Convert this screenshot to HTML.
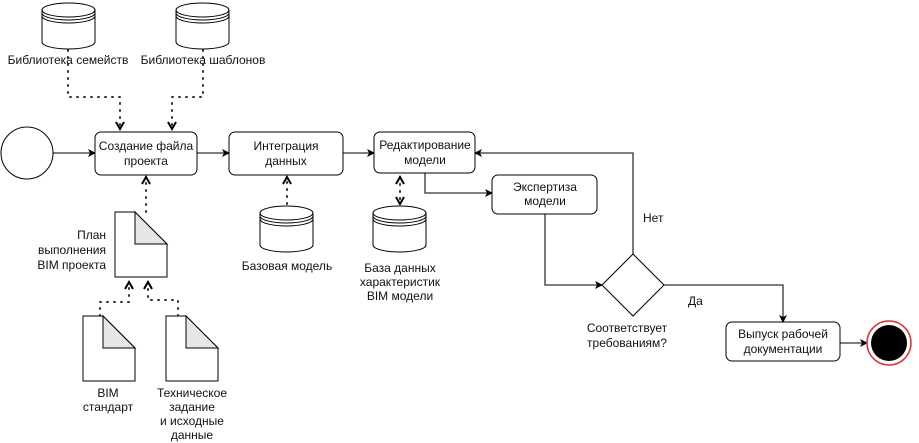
<!DOCTYPE html>
<html><head><meta charset="utf-8"><style>body{margin:0;background:#fff}svg{display:block}text{font-family:"Liberation Sans",sans-serif;font-size:12px;fill:#111}</style></head><body>
<svg width="919" height="443" viewBox="0 0 919 443" xmlns="http://www.w3.org/2000/svg">
<defs>
<marker id="a" markerWidth="8" markerHeight="8" refX="7" refY="4" orient="auto" markerUnits="userSpaceOnUse"><path d="M0,0 L8,4 L0,8 L2,4z" fill="#000"/></marker>
<marker id="o" markerWidth="10" markerHeight="10" refX="8" refY="5" orient="auto" markerUnits="userSpaceOnUse"><path d="M1,1 L8,5 L1,9" fill="none" stroke="#000" stroke-width="2"/></marker>
<marker id="os" markerWidth="10" markerHeight="10" refX="2" refY="5" orient="auto" markerUnits="userSpaceOnUse"><path d="M9,1 L2,5 L9,9" fill="none" stroke="#000" stroke-width="2"/></marker>
<g id="cyl"><path d="M0,8 L0,40 A26.5,7 0 0 0 53,40 L53,8" fill="#fff" stroke="#000"/><ellipse cx="26.5" cy="8" rx="26.5" ry="7" fill="#fff" stroke="#000"/><path d="M0,11 A26.5,7 0 0 0 53,11 M0,14 A26.5,7 0 0 0 53,14" fill="none" stroke="#000"/></g>
<g id="doc"><path d="M0,0 L20,0 L52,32 L52,65 L0,65z" fill="#fff" stroke="#000"/><path d="M20,0 L20,32 L52,32z" fill="#e6e6e6" stroke="#000"/></g>
</defs>
<g stroke="#333" stroke-width="1.3" fill="none">
<path d="M53,153 L95,153" marker-end="url(#a)"/>
<path d="M197,153 L229,153" marker-end="url(#a)"/>
<path d="M343,153 L374,153" marker-end="url(#a)"/>
<path d="M425,173 L425,193 L492,193" marker-end="url(#a)"/>
<path d="M545,214 L545,285 L602,285" marker-end="url(#a)"/>
<path d="M633,254 L633,153 L475,153" marker-end="url(#a)"/>
<path d="M664,285 L783,285 L783,322" marker-end="url(#a)"/>
<path d="M840,343 L867,343" marker-end="url(#a)"/>
</g>
<g stroke="#333" stroke-width="2" fill="none" stroke-dasharray="1,6" stroke-linecap="round">
<path d="M68,50 L68,97 L120,97 L120,129" marker-end="url(#o)"/>
<path d="M203,50 L203,97 L172,97 L172,129" marker-end="url(#o)"/>
<path d="M146,212 L146,177" marker-end="url(#o)"/>
<path d="M287,204 L287,177" marker-end="url(#o)"/>
<path d="M400,177 L400,204" marker-end="url(#o)" marker-start="url(#os)"/>
<path d="M100,316 L100,302 L129,302 L129,282" marker-end="url(#o)"/>
<path d="M178,316 L178,300 L148,300 L148,282" marker-end="url(#o)"/>
</g>
<circle cx="27" cy="153" r="26" fill="#fff" stroke="#000"/>
<g fill="#fff" stroke="#000">
<rect x="95" y="132" width="102" height="43" rx="6"/>
<rect x="229" y="132" width="114" height="43" rx="6"/>
<rect x="374" y="132" width="101" height="41" rx="6"/>
<rect x="492" y="175" width="105" height="39" rx="6"/>
<rect x="726" y="322" width="114" height="39" rx="6"/>
<path d="M633,254 L664,285 L633,316 L602,285z"/>
</g>
<circle cx="889" cy="343" r="22" fill="#fff" stroke="#e03030" stroke-width="1.5"/>
<circle cx="889" cy="343" r="18" fill="#000"/>
<use href="#cyl" x="42" y="2"/><use href="#cyl" x="176" y="2"/>
<use href="#cyl" x="260" y="205"/><use href="#cyl" x="373" y="205"/>
<use href="#doc" x="115" y="212"/><use href="#doc" x="83" y="316"/><use href="#doc" x="166" y="316"/>
<g text-anchor="middle">
<text x="68" y="64">Библиотека семейств</text>
<text x="203" y="64">Библиотека шаблонов</text>
<text x="146" y="150">Создание файла</text><text x="146" y="165">проекта</text>
<text x="286" y="150">Интеграция</text><text x="286" y="165">данных</text>
<text x="425" y="149">Редактирование</text><text x="425" y="164">модели</text>
<text x="545" y="191">Экспертиза</text><text x="545" y="205">модели</text>
<text x="783" y="338">Выпуск рабочей</text><text x="783" y="353">документации</text>
<text x="287" y="270">Базовая модель</text>
<text x="400" y="272">База данных</text><text x="400" y="286">характеристик</text><text x="400" y="300">BIM модели</text>
<text x="108" y="397">BIM</text><text x="108" y="411">стандарт</text>
<text x="192" y="397">Техническое</text><text x="192" y="411">задание</text><text x="192" y="425">и исходные</text><text x="192" y="439">данные</text>
<text x="627" y="332">Соответствует</text><text x="627" y="347">требованиям?</text>
</g>
<g text-anchor="end">
<text x="106" y="239">План</text><text x="106" y="254">выполнения</text><text x="106" y="269">BIM проекта</text>
</g>
<text x="643" y="222">Нет</text>
<text x="688" y="305">Да</text>
</svg>
</body></html>
